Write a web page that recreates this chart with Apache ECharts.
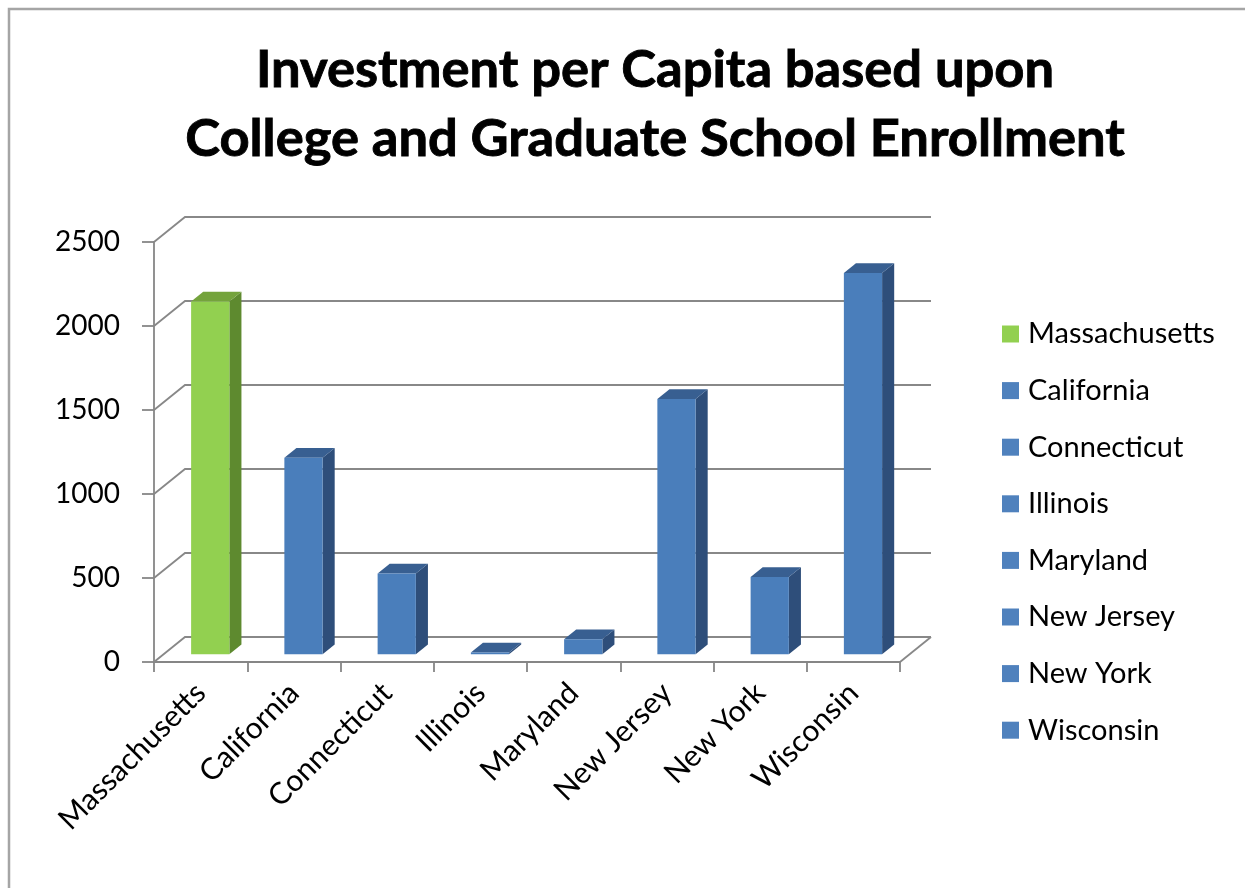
<!DOCTYPE html>
<html>
<head>
<meta charset="utf-8">
<script src="https://cdn.jsdelivr.net/npm/echarts@6/dist/echarts.min.js"></script>
<style>
  html, body { margin: 0; padding: 0; background: #ffffff; }
  #chart { width: 1245px; height: 888px; }
</style>
</head>
<body>
<div id="chart"></div>
<script>
// Investment per capita by state
const states = ['Massachusetts', 'California', 'Connecticut', 'Illinois', 'Maryland', 'New Jersey', 'New York', 'Wisconsin'];
const investment = [2100, 1170, 480, 10, 90, 1520, 460, 2270];
const yTicks = [0, 500, 1000, 1500, 2000, 2500];

// Styling for the pseudo-3D columns
const FONT = 'Lato, "Open Sans", sans-serif';
const GRID_COLOR = '#888888';
const AXIS_COLOR = '#868686';
const DEPTH = [31, -25];        // floor depth vector (front plane -> back wall)
const BAR_FRONT = 0.31;        // depth fraction of the column front face
const BAR_BACK = 0.70;         // depth fraction of the column back face
const BAR_WIDTH = 0.41;        // fraction of a category band
const HIGHLIGHT = 0;           // Massachusetts is drawn in green
const FACES = {
  green: { front: '#92d050', side: '#5e8a2f', top: '#74a33c', legend: '#92d050' },
  blue:  { front: '#4a7ebb', side: '#2e4e7a', top: '#385f91', legend: '#4f81bd' }
};
const facesFor = i => (i === HIGHLIGHT ? FACES.green : FACES.blue);

// Back wall gridlines with their diagonal returns to the front value axis
function renderWall(params, api) {
  const cs = params.coordSys;
  const v = api.value(1);
  const y = api.coord([0, v])[1];
  const x0 = cs.x, x1 = cs.x + cs.width;
  const style = { stroke: GRID_COLOR, lineWidth: 1.8, fill: null };
  const children = [{
    type: 'polyline',
    shape: { points: [[x0, y], [x0 + DEPTH[0], y + DEPTH[1]], [x1 + DEPTH[0], y + DEPTH[1]]] },
    style
  }];
  if (v === 0) {
    children.push({ type: 'line', shape: { x1: x1, y1: y, x2: x1 + DEPTH[0], y2: y + DEPTH[1] }, style });
  }
  return { type: 'group', children };
}

// One column: front face, right side face and top face
function renderBar(params, api) {
  const idx = api.value(0);
  const v = api.value(1);
  const base = api.coord([idx, 0]);
  const top = api.coord([idx, v]);
  const bw = api.size([1, 0])[0];
  const hw = bw * BAR_WIDTH / 2;
  const fx = DEPTH[0] * BAR_FRONT, fy = DEPTH[1] * BAR_FRONT;
  const dx = DEPTH[0] * (BAR_BACK - BAR_FRONT), dy = DEPTH[1] * (BAR_BACK - BAR_FRONT);
  const xl = base[0] - hw + fx, xr = base[0] + hw + fx;
  const yb = base[1] + fy, yt = top[1] + fy;
  const c = facesFor(idx);
  return {
    type: 'group',
    children: [
      { type: 'polygon', shape: { points: [[xr, yb], [xr, yt], [xr + dx, yt + dy], [xr + dx, yb + dy]] }, style: { fill: c.side } },
      { type: 'polygon', shape: { points: [[xl, yt], [xr, yt], [xr + dx, yt + dy], [xl + dx, yt + dy]] }, style: { fill: c.top } },
      { type: 'rect', shape: { x: xl, y: yt, width: xr - xl, height: yb - yt }, style: { fill: c.front } }
    ]
  };
}

const barSeries = states.map((name, i) => ({
  type: 'custom',
  name: name,
  z: 3,
  itemStyle: { color: facesFor(i).legend },
  encode: { x: 0, y: 1 },
  data: [[i, investment[i]]],
  renderItem: renderBar
}));

const chart = echarts.init(document.getElementById('chart'), null, { renderer: 'canvas' });
chart.setOption({
  animation: false,
  backgroundColor: '#ffffff',
  title: {
    text: 'Investment per Capita based upon\nCollege and Graduate School Enrollment',
    left: 655,
    top: 36,
    textAlign: 'center',
    padding: 0,
    textStyle: {
      fontFamily: FONT, fontWeight: 'bold', fontSize: 52.5, lineHeight: 69, color: '#000000',
      textBorderColor: '#000000', textBorderWidth: 0.9
    }
  },
  graphic: [{
    type: 'rect',
    z: -10,
    silent: true,
    shape: { x: 9, y: 9, width: 1400, height: 1000 },
    style: { fill: null, stroke: '#a5a5a5', lineWidth: 2.5 }
  }],
  legend: {
    data: states,
    orient: 'vertical',
    left: 1002,
    top: 319,
    padding: 0,
    icon: 'rect',
    itemWidth: 17,
    itemHeight: 17,
    itemGap: 26.6,
    selectedMode: false,
    textStyle: { fontFamily: FONT, fontSize: 29, lineHeight: 30, color: '#000000', padding: [0, 0, 0, 4] }
  },
  grid: { left: 154, top: 242, width: 746, height: 420, outerBoundsMode: 'none' },
  xAxis: {
    type: 'category',
    data: states,
    boundaryGap: true,
    axisLine: { show: true, lineStyle: { color: AXIS_COLOR, width: 1.8 } },
    axisTick: { show: true, length: 10, lineStyle: { color: AXIS_COLOR, width: 1.8 } },
    axisLabel: { interval: 0, rotate: 45, margin: 26, fontFamily: FONT, fontSize: 30, color: '#000000' },
    splitLine: { show: false }
  },
  yAxis: {
    type: 'value',
    min: 0,
    max: 2500,
    interval: 500,
    axisLine: { show: true, lineStyle: { color: AXIS_COLOR, width: 1.8 } },
    axisTick: { show: true, length: 12, lineStyle: { color: AXIS_COLOR, width: 1.8 } },
    axisLabel: { margin: 34, fontFamily: FONT, fontSize: 28, color: '#000000', formatter: v => String(v) },
    splitLine: { show: false }
  },
  series: [{
    type: 'custom',
    name: 'wall',
    silent: true,
    z: 1,
    encode: { x: 0, y: 1 },
    data: yTicks.map(t => [0, t]),
    renderItem: renderWall
  }].concat(barSeries)
});
</script>
</body>
</html>
